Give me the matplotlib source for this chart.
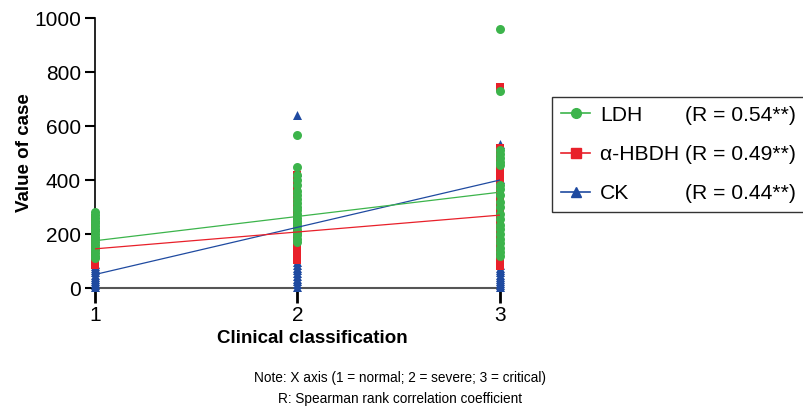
import matplotlib
matplotlib.use("Agg")
import matplotlib.pyplot as plt
from matplotlib.lines import Line2D

plt.rcParams['font.family'] = ['Liberation Sans', 'DejaVu Sans']

# ---- data ----
ldh_1 = [110, 120, 130, 140, 150, 160, 170, 180, 190, 200, 210, 220, 230, 240, 250, 260, 270, 280]
ldh_2 = [565, 450, 420, 400, 380, 360, 345, 330, 315, 300, 290, 275, 260, 250, 240, 230, 215, 205, 195, 180, 170]
ldh_3 = [960, 730, 510, 495, 480, 465, 455, 380, 365, 345, 320, 300, 275, 255, 235, 220, 200, 180, 165, 150, 135, 120]

hbdh_1 = [85, 95, 105, 120, 140, 160, 180, 200, 220, 240, 260]
hbdh_2 = [105, 120, 140, 160, 180, 200, 220, 240, 260, 280, 300, 320, 340, 360, 380, 400, 420]
hbdh_3 = [745, 520, 500, 480, 460, 440, 420, 400, 380, 360, 340, 320, 300, 280, 260, 240, 220, 200, 180, 160, 140, 120, 100, 80]

ck_1 = [3, 10, 18, 26, 34, 42, 50, 58, 66, 74, 82, 90]
ck_2 = [640, 430, 5, 15, 25, 35, 45, 55, 65, 75, 85, 95]
ck_3 = [535, 405, 3, 10, 18, 26, 34, 42, 50, 58, 66, 75, 85]

fit_x = [1, 3]
ldh_fit = [175, 355]
hbdh_fit = [145, 270]
ck_fit = [50, 400]

labels = ['LDH', 'α-HBDH', 'CK']
r_texts = ['(R = 0.54**)', '(R = 0.49**)', '(R = 0.44**)']
colors = ['#3cb44b', '#e8202a', '#1f4aa0']
markers = ['o', 's', '^']

fig = plt.figure(figsize=(8.04, 4.12), dpi=100)
ax = fig.add_axes([95/804, 1-288/412, (500-95)/804, (288-18)/412])

def xs(vals, x):
    return [x] * len(vals)

# draw CK first, then HBDH, then LDH on top
groups = [
    (ck_1, ck_2, ck_3, ck_fit, 2),
    (hbdh_1, hbdh_2, hbdh_3, hbdh_fit, 1),
    (ldh_1, ldh_2, ldh_3, ldh_fit, 0),
]
for g1, g2, g3, fit, i in groups:
    for vals, x in ((g1, 1), (g2, 2), (g3, 3)):
        ax.scatter(xs(vals, x), vals, s=42 if markers[i] != 's' else 40,
                   marker=markers[i], color=colors[i], linewidths=0,
                   zorder=3 + (2 - i), clip_on=False)
for g1, g2, g3, fit, i in groups:
    ax.plot(fit_x, fit, color=colors[i], lw=0.9, zorder=7)

ax.set_xlim(1, 3)
ax.set_ylim(0, 1000)
ax.set_xticks([1, 2, 3])
ax.set_yticks([0, 200, 400, 600, 800, 1000])
for s in ('top', 'right'):
    ax.spines[s].set_visible(False)
ax.spines['left'].set_linewidth(1.2)
ax.spines['bottom'].set_linewidth(1.5)
ax.spines['bottom'].set_color('#555555')
ax.tick_params(axis='y', length=7, width=1.5, labelsize=15, pad=3)
ax.tick_params(axis='x', length=11, width=2, labelsize=15, pad=2)
ax.set_xlabel('Clinical classification', fontsize=13.5, fontweight='bold')
ax.xaxis.set_label_coords((312-95)/405, -0.155)
ax.set_ylabel('Value of case', fontsize=13.5, fontweight='bold', labelpad=1)

handles = [Line2D([0], [0], color=colors[i], marker=markers[i], markersize=7, lw=1.2)
           for i in range(3)]
leg_labels = ['LDH', labels[1] + ' ' + r_texts[1], 'CK']
leg = fig.legend(handles, leg_labels, loc='upper left', bbox_to_anchor=(552/804, 1-97/412),
                 frameon=True, fancybox=False, edgecolor='#333333', fontsize=15.2,
                 framealpha=1,
                 handlelength=1.4, handletextpad=0.45, borderpad=0.42, labelspacing=0.95,
                 borderaxespad=0)
leg.get_frame().set_linewidth(1.0)

fig.canvas.draw()
renderer = fig.canvas.get_renderer()
texts = leg.get_texts()
mid_bb = texts[1].get_window_extent(renderer)
right_x = mid_bb.x1
for idx in (0, 2):
    bb = texts[idx].get_window_extent(renderer)
    fig.text(right_x / fig.bbox.width, (bb.y0 + bb.y1) / 2 / fig.bbox.height, r_texts[idx],
             ha='right', va='center', fontsize=15.2, zorder=10)

fig.text(400/804, 1-378/412, 'Note: X axis (1 = normal; 2 = severe; 3 = critical)',
         ha='center', va='center', fontsize=9.8)
fig.text(400/804, 1-399/412, 'R: Spearman rank correlation coefficient',
         ha='center', va='center', fontsize=9.8)

fig.savefig('out.png', dpi=100)
